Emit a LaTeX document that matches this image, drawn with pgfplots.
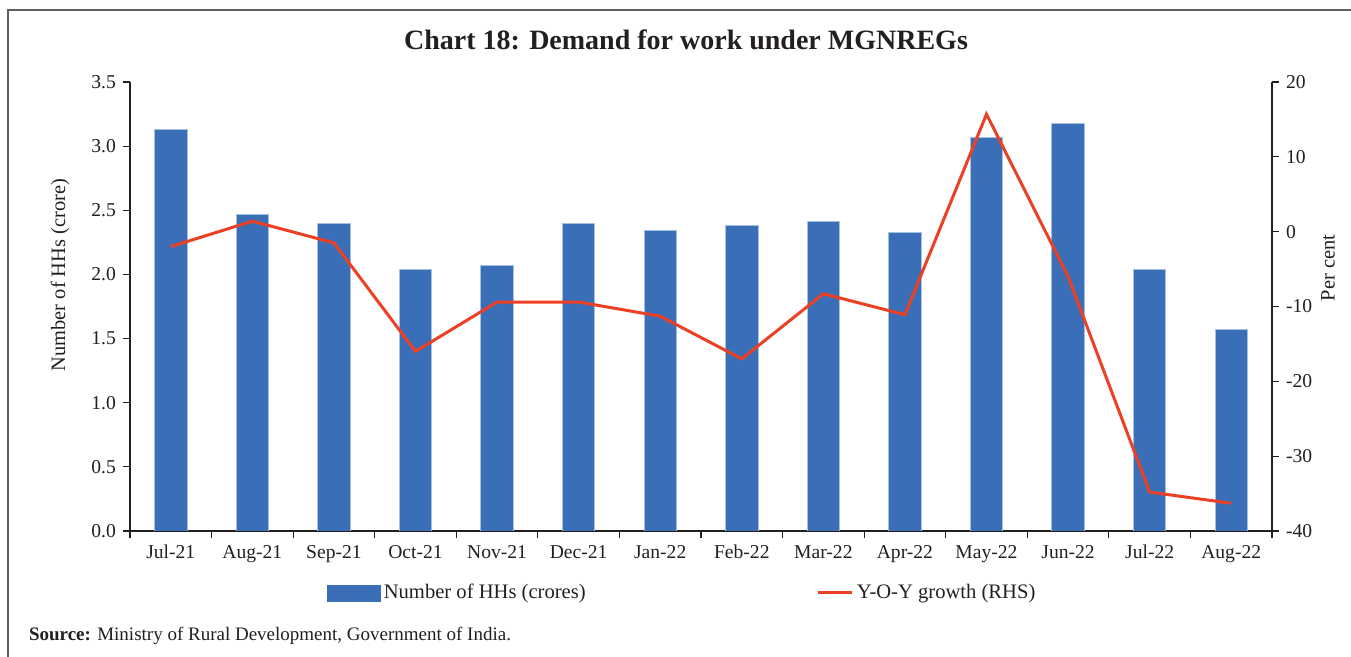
\documentclass[border=0pt]{standalone}
\usepackage{fontspec}
\setmainfont{Liberation Serif}
\usepackage{pgfplots}
\pgfplotsset{compat=1.18}
\definecolor{barblue}{RGB}{58,111,183}
\definecolor{baredge}{RGB}{165,192,226}
\definecolor{linered}{RGB}{236,64,36}
\definecolor{framegray}{RGB}{95,95,95}
\definecolor{txt}{RGB}{35,31,32}
\begin{document}
\begin{tikzpicture}[x=0.5pt,y=0.5pt]
\path[use as bounding box] (0,0) rectangle (1351,657);
\draw[framegray, line width=1pt] (8,0) -- (8,647) -- (1351,647);
\node[txt, font=\fontsize{14}{16}\selectfont\bfseries] at (686,617) {Chart 18: Demand for work under MGNREGs};
\node[txt, anchor=west, font=\fontsize{9.5}{11}\selectfont] at (22,21) {\textbf{Source:} Ministry of Rural Development, Government of India.};
\pgfplotsset{
  common/.style={
    at={(65pt,63pt)}, anchor=south west,
    width=571pt, height=224.5pt, scale only axis,
    xmin=-0.5, xmax=13.5,
    tick align=outside,
    major tick length=3.5pt, minor tick length=3.5pt,
    every tick/.style={txt, line width=0.6pt},
    axis line style={txt, line width=0.75pt},
    ticklabel style={txt, font=\fontsize{9.8}{11}\selectfont},
    /pgf/number format/assume math mode=true,
    label style={txt, font=\fontsize{10.2}{11}\selectfont},
  }
}
\begin{axis}[common,
  ymin=0, ymax=3.5,
  axis x line*=bottom, axis y line*=left,
  xtick={0,...,13},
  xticklabels={Jul-21,Aug-21,Sep-21,Oct-21,Nov-21,Dec-21,Jan-22,Feb-22,Mar-22,Apr-22,May-22,Jun-22,Jul-22,Aug-22},
  major x tick style={draw=none},
  minor xtick={-0.5,0.5,...,13.5},
  ytick={0,0.5,...,3.5},
  yticklabel style={/pgf/number format/.cd, fixed, fixed zerofill, precision=1},
  ylabel={Number of HHs (crore)},
  ylabel style={at={(rel axis cs:-0.0613,0.570)}, anchor=center},
  ybar, bar width=16.2pt,
]
\addplot[fill=barblue, draw=baredge, line width=0.4pt] coordinates {
(0,3.13) (1,2.47) (2,2.40) (3,2.04) (4,2.07) (5,2.40) (6,2.34)
(7,2.38) (8,2.41) (9,2.33) (10,3.07) (11,3.18) (12,2.04) (13,1.57)};
\end{axis}
\begin{axis}[common,
  ymin=-40, ymax=20,
  axis y line*=right, axis x line=none,
  ytick={-40,-30,...,20},
  ylabel={Per cent},
  ylabel style={at={(rel axis cs:1.049,0.586)}, anchor=center, rotate=0},
  legend style={at={(rel axis cs:0.484,-0.138)}, anchor=center, draw=none, fill=none,
    legend columns=2, font=\fontsize{10.3}{11}\selectfont, text=txt,
    nodes={inner xsep=1.5pt},
    /tikz/every even column/.append style={column sep=114pt}},
]
\addlegendimage{legend image code/.code={\fill[barblue] (0pt,-4pt) rectangle (26.5pt,4pt);}}
\addlegendentry{Number of HHs (crores)}
\addplot[linered, line width=1.5pt, mark=none] coordinates {
(0,-2.0) (1,1.4) (2,-1.5) (3,-16.0) (4,-9.4) (5,-9.4) (6,-11.3)
(7,-17.0) (8,-8.3) (9,-11.1) (10,15.7) (11,-6.0) (12,-34.8) (13,-36.3)};
\addlegendentry{Y-O-Y growth (RHS)}
\end{axis}
\end{tikzpicture}
\end{document}
